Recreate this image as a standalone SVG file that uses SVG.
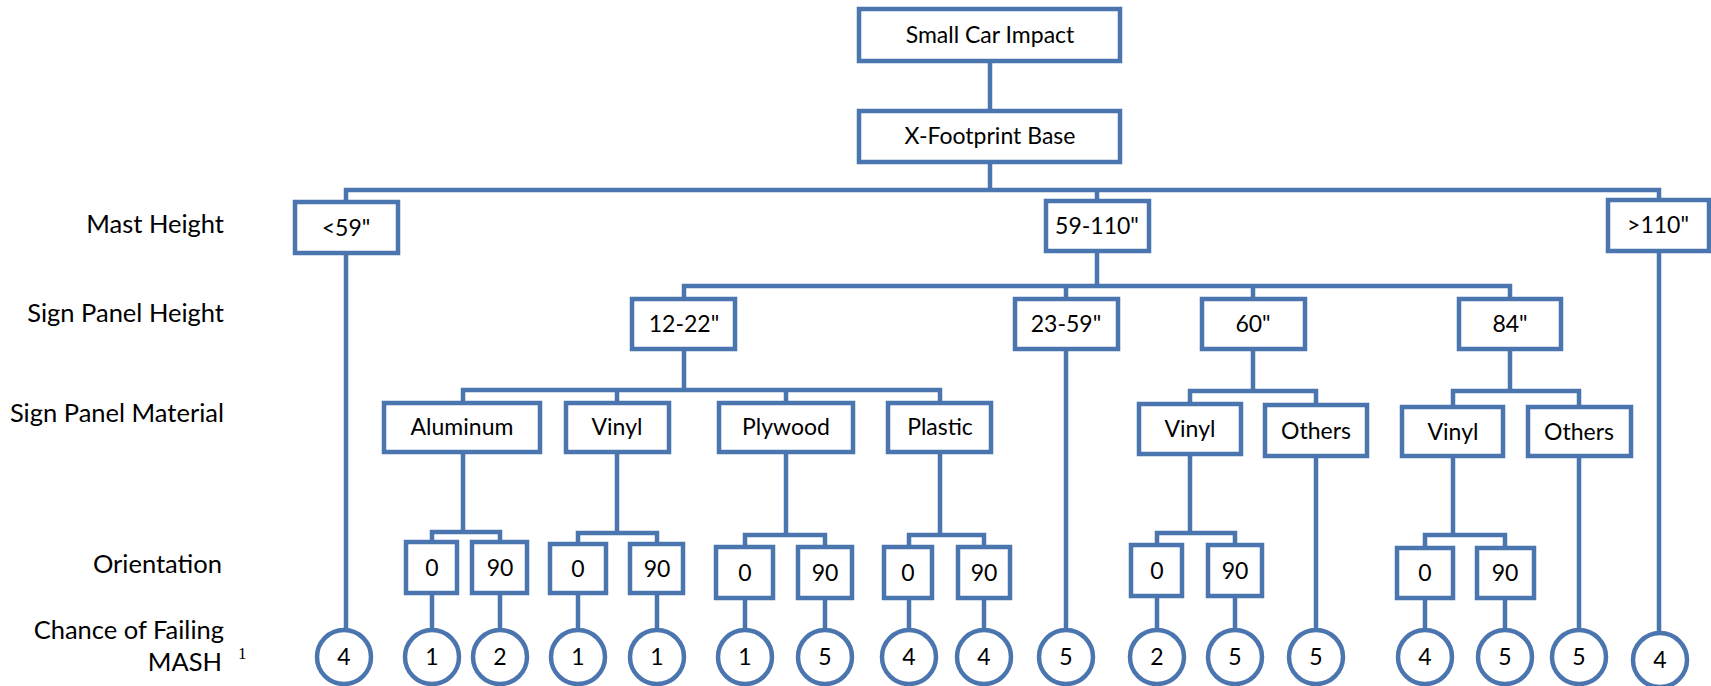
<svg xmlns="http://www.w3.org/2000/svg" width="1711" height="686" viewBox="0 0 1711 686">
<style>
.b{fill:#fff;stroke:#4A75AE;stroke-width:4.5}
.c{fill:none;stroke:#4A75AE;stroke-width:4.5;stroke-linejoin:miter}
.t{font-family:Lato,"Open Sans",sans-serif;font-size:23px;fill:#000;text-anchor:middle}
.l{font-family:Lato,"Open Sans",sans-serif;font-size:25.5px;fill:#000;text-anchor:end}
.s{font-family:"Liberation Serif",serif;font-size:17px;fill:#000}
</style>
<rect width="1711" height="686" fill="#fff"/>
<g id="connectors" class="c">
<path d="M990 63V109"/>
<path d="M990 164V190"/>
<path d="M346 200V190H1659V198"/>
<path d="M1097 190V199"/>
<path d="M1097 253V286"/>
<path d="M684 297V286H1510V297"/>
<path d="M1066 286V297"/>
<path d="M1253 286V297"/>
<path d="M684 351V390"/>
<path d="M463 401V390H940V401"/>
<path d="M617 390V401"/>
<path d="M786 390V401"/>
<path d="M1253 351V391"/>
<path d="M1190 402V391H1316V403"/>
<path d="M1510 351V391"/>
<path d="M1453 405V391H1579V405"/>
<path d="M463 453V532"/><path d="M432 540V532H500V540"/>
<path d="M617 454V533"/><path d="M578 542V533H657V542"/>
<path d="M786 454V535"/><path d="M745 545V535H825V545"/>
<path d="M940 454V535"/><path d="M909 545V535H984V545"/>
<path d="M1190 456V533"/><path d="M1157 543V533H1235V543"/>
<path d="M1453 458V535"/><path d="M1425 546V535H1505V546"/>
<path d="M432 595V630"/><path d="M500 595V630"/>
<path d="M578 595V630"/><path d="M657 595V630"/>
<path d="M745 600V630"/><path d="M825 600V630"/>
<path d="M909 600V630"/><path d="M984 600V630"/>
<path d="M1157 598V630"/><path d="M1235 598V630"/>
<path d="M1425 600V630"/><path d="M1505 600V630"/>
<path d="M346 255V630"/>
<path d="M1066 351V630"/>
<path d="M1316 458V630"/>
<path d="M1579 458V630"/>
<path d="M1659 253V633"/>
</g>
<g id="row-labels">
<text class="l" x="224" y="233">Mast Height</text>
<text class="l" x="224" y="322">Sign Panel Height</text>
<text class="l" x="224" y="422">Sign Panel Material</text>
<text class="l" x="222" y="573">Orientation</text>
<text class="l" x="224" y="639">Chance of Failing</text>
<text class="l" x="222" y="671">MASH</text>
<text class="s" x="238" y="659">1</text>
</g>
<g id="n-small-car"><rect class="b" x="859" y="9" width="261" height="52"/><text class="t" x="990" y="43">Small Car Impact</text></g>
<g id="n-xfoot"><rect class="b" x="859" y="111" width="261" height="51"/><text class="t" x="990" y="144">X-Footprint Base</text></g>
<g id="n-lt59"><rect class="b" x="295" y="202" width="103" height="51"/><text class="t" x="346" y="236">&lt;59"</text></g>
<g id="n-59-110"><rect class="b" x="1046" y="201" width="103" height="50"/><text class="t" x="1097" y="234">59-110"</text></g>
<g id="n-gt110"><rect class="b" x="1608" y="200" width="101" height="51"/><text class="t" x="1658" y="233">&gt;110"</text></g>
<g id="n-12-22"><rect class="b" x="632" y="299" width="103" height="50"/><text class="t" x="684" y="332">12-22"</text></g>
<g id="n-23-59"><rect class="b" x="1015" y="299" width="103" height="50"/><text class="t" x="1066" y="332">23-59"</text></g>
<g id="n-60"><rect class="b" x="1202" y="299" width="103" height="50"/><text class="t" x="1253" y="332">60"</text></g>
<g id="n-84"><rect class="b" x="1459" y="299" width="102" height="50"/><text class="t" x="1510" y="332">84"</text></g>
<g id="n-aluminum"><rect class="b" x="384" y="403" width="156" height="49"/><text class="t" x="462" y="435">Aluminum</text></g>
<g id="n-vinyl1"><rect class="b" x="566" y="403" width="103" height="49"/><text class="t" x="617" y="435">Vinyl</text></g>
<g id="n-plywood"><rect class="b" x="719" y="403" width="134" height="49"/><text class="t" x="786" y="435">Plywood</text></g>
<g id="n-plastic"><rect class="b" x="888" y="403" width="103" height="49"/><text class="t" x="940" y="435">Plastic</text></g>
<g id="n-vinyl60"><rect class="b" x="1139" y="404" width="102" height="50"/><text class="t" x="1190" y="437">Vinyl</text></g>
<g id="n-others60"><rect class="b" x="1265" y="405" width="102" height="51"/><text class="t" x="1316" y="439">Others</text></g>
<g id="n-vinyl84"><rect class="b" x="1402" y="407" width="101" height="49"/><text class="t" x="1453" y="440">Vinyl</text></g>
<g id="n-others84"><rect class="b" x="1528" y="407" width="103" height="49"/><text class="t" x="1579" y="440">Others</text></g>
<g id="n-al-0"><rect class="b" x="406" y="542" width="51" height="51"/><text class="t" x="432" y="576">0</text></g>
<g id="n-al-90"><rect class="b" x="472" y="542" width="55" height="51"/><text class="t" x="500" y="576">90</text></g>
<g id="n-vi-0"><rect class="b" x="550" y="544" width="56" height="49"/><text class="t" x="578" y="577">0</text></g>
<g id="n-vi-90"><rect class="b" x="630" y="544" width="53" height="49"/><text class="t" x="657" y="577">90</text></g>
<g id="n-ply-0"><rect class="b" x="716" y="547" width="57" height="51"/><text class="t" x="745" y="581">0</text></g>
<g id="n-ply-90"><rect class="b" x="798" y="547" width="54" height="51"/><text class="t" x="825" y="581">90</text></g>
<g id="n-pla-0"><rect class="b" x="884" y="547" width="48" height="51"/><text class="t" x="908" y="581">0</text></g>
<g id="n-pla-90"><rect class="b" x="958" y="547" width="52" height="51"/><text class="t" x="984" y="581">90</text></g>
<g id="n-v60-0"><rect class="b" x="1131" y="545" width="51" height="51"/><text class="t" x="1157" y="579">0</text></g>
<g id="n-v60-90"><rect class="b" x="1208" y="545" width="54" height="51"/><text class="t" x="1235" y="579">90</text></g>
<g id="n-v84-0"><rect class="b" x="1397" y="548" width="56" height="50"/><text class="t" x="1425" y="581">0</text></g>
<g id="n-v84-90"><rect class="b" x="1477" y="548" width="57" height="50"/><text class="t" x="1505" y="581">90</text></g>
<g id="r1"><circle class="b" cx="344" cy="657" r="27"/><text class="t" x="344" y="665">4</text></g>
<g id="r2"><circle class="b" cx="432" cy="657" r="27"/><text class="t" x="432" y="665">1</text></g>
<g id="r3"><circle class="b" cx="500" cy="657" r="27"/><text class="t" x="500" y="665">2</text></g>
<g id="r4"><circle class="b" cx="578" cy="657" r="27"/><text class="t" x="578" y="665">1</text></g>
<g id="r5"><circle class="b" cx="657" cy="657" r="27"/><text class="t" x="657" y="665">1</text></g>
<g id="r6"><circle class="b" cx="745" cy="657" r="27"/><text class="t" x="745" y="665">1</text></g>
<g id="r7"><circle class="b" cx="825" cy="657" r="27"/><text class="t" x="825" y="665">5</text></g>
<g id="r8"><circle class="b" cx="909" cy="657" r="27"/><text class="t" x="909" y="665">4</text></g>
<g id="r9"><circle class="b" cx="984" cy="657" r="27"/><text class="t" x="984" y="665">4</text></g>
<g id="r10"><circle class="b" cx="1066" cy="657" r="27"/><text class="t" x="1066" y="665">5</text></g>
<g id="r11"><circle class="b" cx="1157" cy="657" r="27"/><text class="t" x="1157" y="665">2</text></g>
<g id="r12"><circle class="b" cx="1235" cy="657" r="27"/><text class="t" x="1235" y="665">5</text></g>
<g id="r13"><circle class="b" cx="1316" cy="657" r="27"/><text class="t" x="1316" y="665">5</text></g>
<g id="r14"><circle class="b" cx="1425" cy="657" r="27"/><text class="t" x="1425" y="665">4</text></g>
<g id="r15"><circle class="b" cx="1505" cy="657" r="27"/><text class="t" x="1505" y="665">5</text></g>
<g id="r16"><circle class="b" cx="1579" cy="657" r="27"/><text class="t" x="1579" y="665">5</text></g>
<g id="r17"><circle class="b" cx="1660" cy="660" r="27"/><text class="t" x="1660" y="668">4</text></g>
</svg>
